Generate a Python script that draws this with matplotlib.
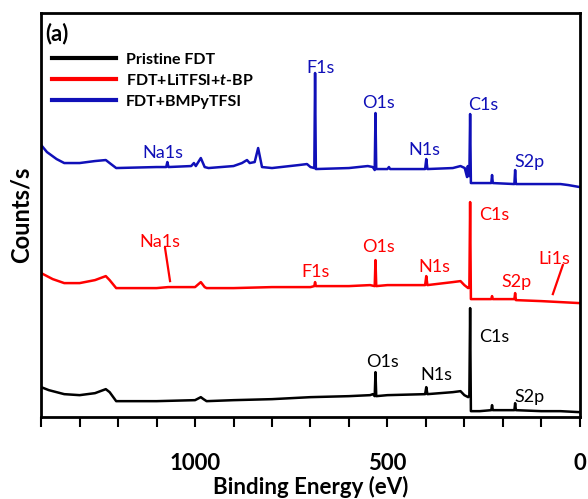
import matplotlib
matplotlib.use("Agg")
import matplotlib.pyplot as plt
from matplotlib.lines import Line2D

plt.rcParams['font.family'] = ['Lato', 'DejaVu Sans']
plt.rcParams['mathtext.fontset'] = 'custom'
plt.rcParams['mathtext.bfit'] = 'Lato:italic:bold'
plt.rcParams['mathtext.it'] = 'Lato:italic'

# binding energy (eV) and counts (offset, a.u.)
e_black = [1400, 1380, 1340, 1300, 1260, 1232, 1222, 1205, 1100, 1000, 985, 978, 970, 900, 800,
           700, 600, 545, 538, 533, 531, 529, 500, 402, 399, 396, 330, 310, 300, 290, 287, 285,
           283, 260, 230, 228, 226, 170, 168, 166, 100, 50, 0]
y_black = [30, 27, 23, 22, 24, 28, 25, 16, 16, 17, 20, 18, 16, 17, 18,
           20, 21, 22, 23, 21, 45, 21, 22, 23, 30, 23, 25, 26, 22, 20, 22, 109,
           6, 6, 7, 12, 7, 7, 14, 7, 6, 6, 5]

e_red = [1400, 1370, 1340, 1300, 1260, 1232, 1222, 1205, 1100, 1070, 1000, 985, 975, 970, 900,
         800, 700, 690, 688, 686, 600, 545, 533, 531, 529, 500, 402, 399, 396, 330, 310, 300,
         290, 287, 285, 283, 230, 228, 226, 170, 168, 166, 100, 50, 0]
y_red = [144, 138, 134, 134, 137, 141, 137, 129, 129, 130, 130, 135, 130, 129, 129,
         130, 130, 131, 135, 131, 131, 132, 131, 157, 131, 132, 132, 141, 132, 135, 136, 132,
         129, 130, 215, 118, 118, 121, 118, 118, 124, 117, 116, 115, 114]

e_blue = [1400, 1385, 1360, 1340, 1300, 1260, 1232, 1222, 1205, 1100, 1075, 1072, 1069, 1010,
          1003, 998, 985, 975, 965, 900, 878, 865, 858, 845, 836, 826, 800, 730, 709, 700, 690,
          688, 686, 600, 551, 538, 533, 531, 529, 500, 496, 493, 402, 399, 396, 330, 310, 299,
          293, 291, 289, 287, 285, 283, 230, 228, 226, 170, 168, 166, 50, 30, 0]
y_blue = [272, 265, 258, 254, 254, 256, 257, 254, 249, 250, 250, 255, 250, 251,
          254, 251, 259, 250, 249, 251, 254, 257, 254, 255, 269, 250, 249, 252, 253, 250, 249,
          344, 248, 249, 251, 250, 247, 304, 248, 248, 250, 248, 248, 258, 248, 249, 251, 249,
          240, 251, 241, 241, 303, 234, 234, 242, 234, 233, 247, 233, 233, 232, 230]

series_names = ['Pristine FDT', 'FDT+LiTFSI+$\\mathbfit{t}$-BP', 'FDT+BMPyTFSI']
series_colors = ['black', '#ff0000', '#1010b8']

# peak labels: (text, energy, height)
labels_black = [('C1s', 223, 80), ('O1s', 512, 55), ('N1s', 374, 42), ('S2p', 130, 20)]
labels_red = [('Na1s', 1091, 175), ('F1s', 686, 145), ('O1s', 522, 170), ('N1s', 379, 150),
              ('C1s', 223, 202), ('S2p', 164, 135), ('Li1s', 65, 158)]
labels_blue = [('Na1s', 1083, 264), ('F1s', 675, 349), ('O1s', 522, 314), ('N1s', 403, 267),
               ('C1s', 252, 312), ('S2p', 132, 255)]
# leader lines for Na1s and Li1s (red)
na_line = ([1078, 1065], [169, 136])
li_line = ([44, 70], [152, 123])

tick_pos = list(range(0, 1401, 100))
tick_lab = ['0', '', '', '', '', '500', '', '', '', '', '1000', '', '', '', '']

fig = plt.figure(figsize=(5.88, 4.99), dpi=100)
ax = fig.add_axes([0.070, 0.164, 0.916, 0.810])

for e, y, c in zip([e_black, e_red, e_blue], [y_black, y_red, y_blue], series_colors):
    ax.plot(e, y, color=c, lw=1.8)

for lab_list, c in zip([labels_black, labels_red, labels_blue], series_colors):
    for t, x, y in lab_list:
        ax.text(x, y, t, color=c, fontsize=13, ha='center', va='center')
ax.plot(*na_line, color=series_colors[1], lw=1.6)
ax.plot(*li_line, color=series_colors[1], lw=1.6)

ax.set_xlim(1400, 0)
ax.set_ylim(0, 404)
ax.set_xticks(tick_pos)
ax.set_xticklabels(tick_lab, fontsize=16, fontweight='bold')
ax.set_yticks([])
ax.tick_params(axis='x', direction='out', length=7, width=1.5, pad=19)
for s in ax.spines.values():
    s.set_linewidth(2)
ax.set_xlabel('Binding Energy (eV)', fontsize=16, fontweight='bold', labelpad=1)
ax.set_ylabel('Counts/s', fontsize=17, fontweight='bold', labelpad=6)

handles = [Line2D([], [], color=c, lw=3) for c in series_colors]
ax.legend(handles, series_names, loc='upper left', bbox_to_anchor=(0.0, 0.93), frameon=False,
          prop={'weight': 'bold', 'size': 11.5}, handlelength=4.0, handletextpad=0.6,
          labelspacing=0.4, borderaxespad=0.3)
ax.text(0.008, 0.95, '(a)', transform=ax.transAxes, fontsize=16, fontweight='bold',
        ha='left', va='center')

fig.savefig('out.png', dpi=100)
